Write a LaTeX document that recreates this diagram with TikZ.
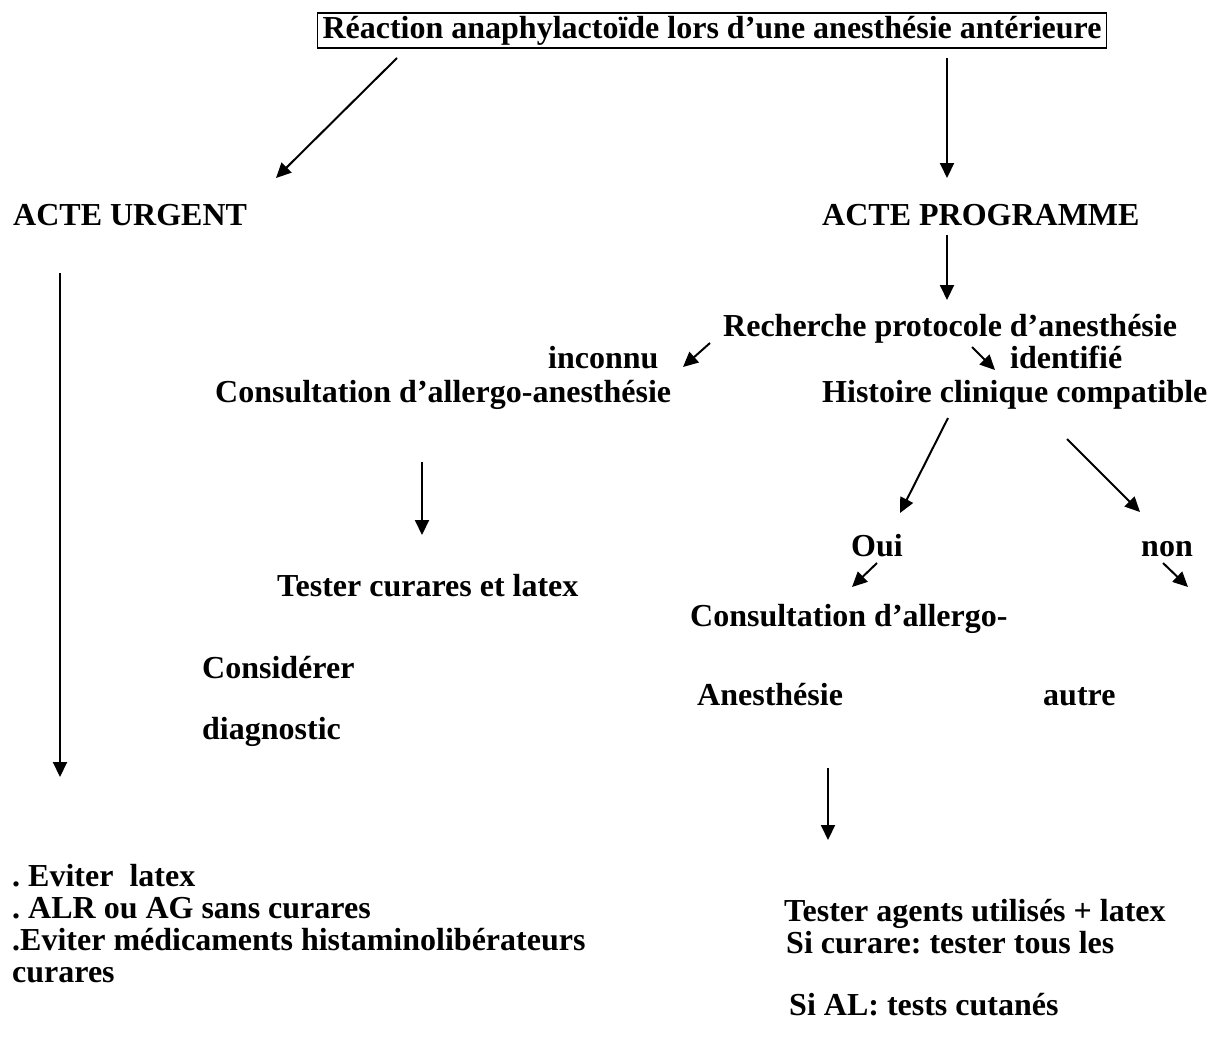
\documentclass[tikz,border=0pt]{standalone}
\usepackage{fontspec}
\setmainfont{Liberation Serif}
\usetikzlibrary{arrows.meta}
\frenchspacing

\begin{document}
\begin{tikzpicture}[x=1pt, y=-1pt,
  txt/.style={anchor=base west, inner sep=0pt},
  titlebox/.style={draw, line width=1.6pt, inner xsep=5pt, inner ysep=3pt, anchor=base},
  arrow/.style={-{Triangle[length=15pt, width=14pt]}, line width=2pt},
  every node/.style={font=\fontsize{32}{37}\selectfont\bfseries}
]
\useasboundingbox (0,0) rectangle (1214,1037);

\node[titlebox] (title) at (712,38) {Réaction anaphylactoïde lors d’une anesthésie antérieure};

\node[txt] (urgent) at (13,225) {ACTE URGENT};
\node[txt] (programme) at (822,225) {ACTE PROGRAMME};

\node[txt] (recherche) at (723,336) {Recherche protocole d’anesthésie};
\node[txt] (inconnu) at (548,368) {inconnu};
\node[txt] (identifie) at (1010,368) {identifié};
\node[txt] (consultL) at (215,402) {Consultation d’allergo-anesthésie};
\node[txt] (histoire) at (822,402) {Histoire clinique compatible};

\node[txt] (tester) at (277,596) {Tester curares et latex};
\node[txt] (considerer) at (202,678) {Considérer};
\node[txt] (diagnostic) at (202,739) {diagnostic};

\node[txt] (oui) at (851,556) {Oui};
\node[txt] (non) at (1141,556) {non};
\node[txt] (consultR) at (690,626) {Consultation d’allergo-};
\node[txt] (anesth) at (697,705) {Anesthésie};
\node[txt] (autre) at (1043,705) {autre};

\node[txt] (eviter) at (12,886) {. Eviter\ \ latex};
\node[txt] (alr) at (12,918) {. ALR ou AG sans curares};
\node[txt] (histamino) at (12,950) {.Eviter médicaments histaminolibérateurs};
\node[txt] (curares) at (12,982) {curares};

\node[txt] (agents) at (784,921) {Tester agents utilisés + latex};
\node[txt] (sicurare) at (786,953) {Si curare: tester tous les};
\node[txt] (sial) at (789,1015) {Si AL: tests cutanés};

% free ends of the connectors
\coordinate (titleL) at (397,58);
\coordinate (titleR) at (947,58);
\coordinate (urgentIn) at (276,178);
\coordinate (progIn) at (947,178);
\coordinate (progOut) at (947,235);
\coordinate (rechIn) at (947,300);
\coordinate (rechL) at (710,343);
\coordinate (inconnuIn) at (683,367);
\coordinate (rechR) at (972,347);
\coordinate (identIn) at (995,370);
\coordinate (urgentOut) at (60,273);
\coordinate (eviterIn) at (60,777);
\coordinate (consultOut) at (422,462);
\coordinate (testerIn) at (422,535);
\coordinate (histL) at (948,418);
\coordinate (ouiIn) at (900,513);
\coordinate (histR) at (1067,439);
\coordinate (nonIn) at (1140,512);
\coordinate (ouiOut) at (877,563);
\coordinate (consultRIn) at (852,587);
\coordinate (nonOut) at (1163,563);
\coordinate (autreIn) at (1188,587);
\coordinate (anesthOut) at (828,768);
\coordinate (agentsIn) at (828,840);

\draw[arrow] (titleL) -- (urgentIn);
\draw[arrow] (titleR) -- (progIn);
\draw[arrow] (progOut) -- (rechIn);
\draw[arrow] (rechL) -- (inconnuIn);
\draw[arrow] (rechR) -- (identIn);
\draw[arrow] (urgentOut) -- (eviterIn);
\draw[arrow] (consultOut) -- (testerIn);
\draw[arrow] (histL) -- (ouiIn);
\draw[arrow] (histR) -- (nonIn);
\draw[arrow] (ouiOut) -- (consultRIn);
\draw[arrow] (nonOut) -- (autreIn);
\draw[arrow] (anesthOut) -- (agentsIn);
\end{tikzpicture}
\end{document}
